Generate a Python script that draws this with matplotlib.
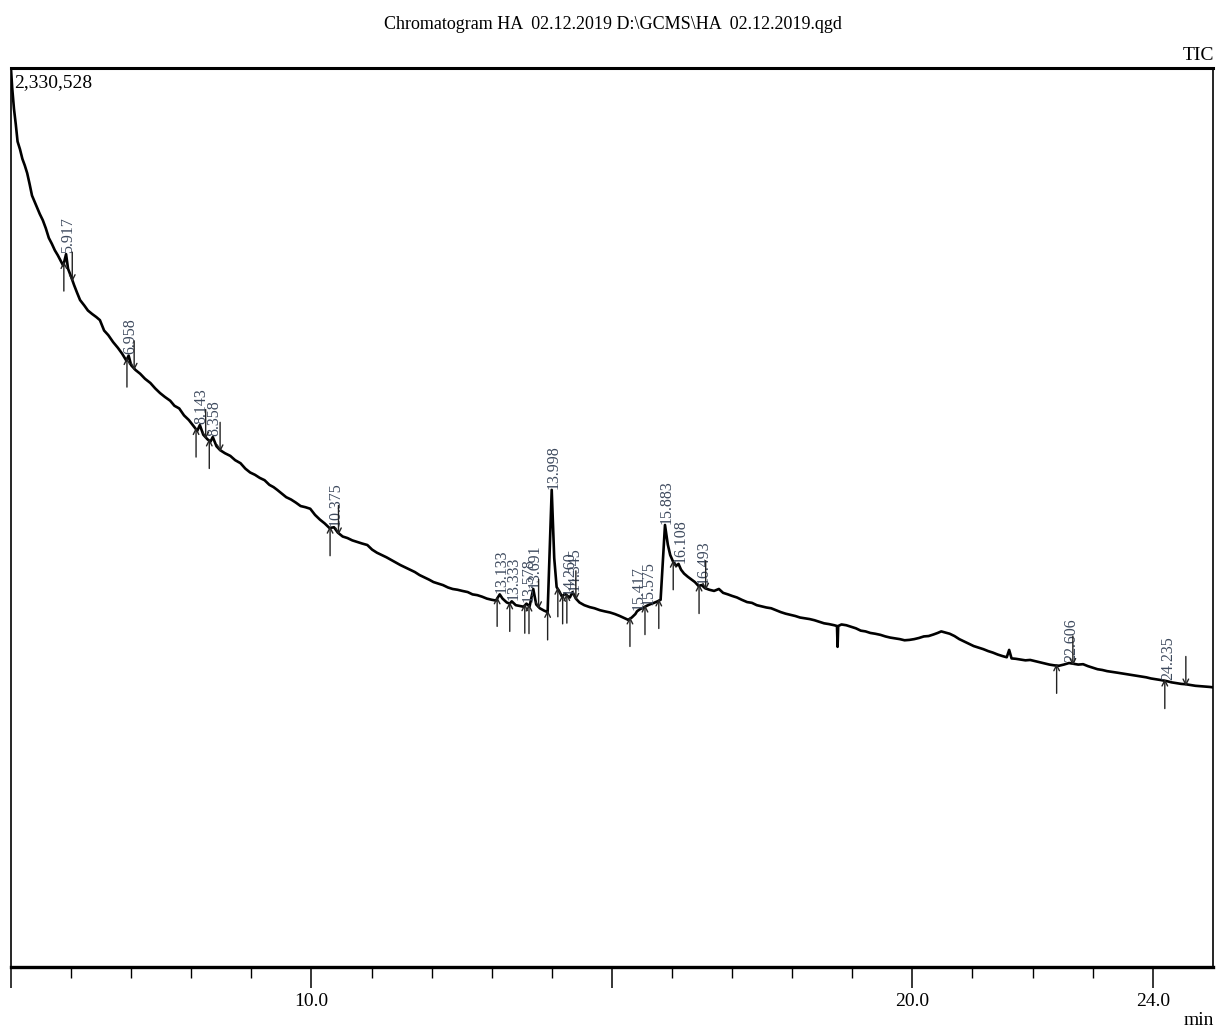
import matplotlib.pyplot as plt
import numpy as np

plt.rcParams['font.family'] = ['Liberation Serif', 'DejaVu Serif']

# retention time (min) and TIC intensity (x1000 counts)
rt = [5.00, 5.02, 5.05, 5.08, 5.11, 5.15, 5.19, 5.23, 5.27, 5.31, 5.35, 5.39, 5.43, 5.48,
      5.53, 5.58, 5.63, 5.68, 5.73, 5.78, 5.83, 5.87, 5.917, 5.95, 6.00, 6.05, 6.10, 6.15,
      6.22, 6.28, 6.35, 6.42, 6.48, 6.55, 6.62, 6.70, 6.78, 6.85, 6.92, 6.958, 7.00, 7.07,
      7.15, 7.23, 7.32, 7.40, 7.48, 7.56, 7.65, 7.72, 7.80, 7.88, 7.96, 8.04, 8.10, 8.143,
      8.20, 8.27, 8.32, 8.358, 8.42, 8.48, 8.56, 8.65, 8.73, 8.82, 8.90, 8.98, 9.06, 9.14,
      9.22, 9.30, 9.37, 9.43, 9.50, 9.58, 9.66, 9.74, 9.82, 9.90, 9.98, 10.06, 10.14, 10.22,
      10.30, 10.375, 10.44, 10.52, 10.60, 10.68, 10.76, 10.84, 10.93, 11.01, 11.09, 11.17,
      11.25, 11.33, 11.41, 11.48, 11.56, 11.64, 11.72, 11.80, 11.88, 11.96, 12.03, 12.11,
      12.19, 12.27, 12.35, 12.43, 12.51, 12.60, 12.68, 12.76, 12.84, 12.92, 13.00, 13.07,
      13.133, 13.18, 13.25, 13.30, 13.333, 13.40, 13.47, 13.53, 13.578, 13.63, 13.691, 13.74,
      13.80, 13.87, 13.93, 13.998, 14.04, 14.08, 14.12, 14.17, 14.22, 14.26, 14.30, 14.345,
      14.40, 14.46, 14.54, 14.63, 14.71, 14.80, 14.88, 14.97, 15.05, 15.13, 15.20, 15.27,
      15.33, 15.39, 15.417, 15.47, 15.53, 15.575, 15.63, 15.70, 15.76, 15.81, 15.883, 15.93,
      15.97, 16.02, 16.07, 16.108, 16.15, 16.20, 16.26, 16.32, 16.38, 16.44, 16.493, 16.55,
      16.62, 16.70, 16.78, 16.85, 16.93, 17.00, 17.08, 17.16, 17.25, 17.33, 17.41, 17.49,
      17.57, 17.65, 17.73, 17.81, 17.89, 17.97, 18.05, 18.13, 18.21, 18.29, 18.37, 18.45,
      18.53, 18.61, 18.70, 18.745, 18.755, 18.765, 18.82, 18.90, 18.98, 19.06, 19.14, 19.22,
      19.30, 19.38, 19.47, 19.55, 19.63, 19.71, 19.79, 19.87, 19.95, 20.03, 20.11, 20.19,
      20.27, 20.35, 20.42, 20.48, 20.55, 20.62, 20.70, 20.78, 20.86, 20.94, 21.02, 21.10,
      21.18, 21.26, 21.34, 21.42, 21.50, 21.57, 21.61, 21.65, 21.72, 21.80, 21.88, 21.96,
      22.04, 22.12, 22.20, 22.28, 22.36, 22.44, 22.52, 22.606, 22.68, 22.76, 22.84, 22.92,
      23.00, 23.08, 23.16, 23.24, 23.33, 23.41, 23.49, 23.57, 23.65, 23.73, 23.81, 23.89,
      23.97, 24.05, 24.13, 24.235, 24.31, 24.39, 24.47, 24.55, 24.63, 24.71, 24.79, 24.87,
      24.95, 25.00]
tic = [2330, 2280, 2225, 2185, 2140, 2120, 2095, 2078, 2058, 2030, 2000, 1985, 1970, 1952,
       1936, 1915, 1890, 1875, 1858, 1845, 1830, 1818, 1848, 1810, 1790, 1768, 1748, 1729,
       1715, 1702, 1693, 1685, 1677, 1650, 1638, 1620, 1605, 1590, 1572, 1585, 1560, 1548,
       1538, 1525, 1514, 1500, 1488, 1478, 1468, 1455, 1448, 1430, 1418, 1402, 1390, 1405,
       1380, 1368, 1362, 1374, 1350, 1340, 1332, 1325, 1314, 1306, 1292, 1282, 1276, 1268,
       1262, 1250, 1244, 1237, 1228, 1218, 1212, 1204, 1195, 1192, 1188, 1172, 1160, 1150,
       1138, 1140, 1126, 1116, 1112, 1106, 1102, 1098, 1094, 1082, 1074, 1068,
       1062, 1055, 1048, 1042, 1036, 1030, 1024, 1016, 1010, 1004, 998, 994,
       990, 984, 980, 978, 975, 972, 966, 964, 960, 955, 952, 950,
       966, 955, 945, 942, 948, 938, 936, 934, 942, 935, 980, 940,
       930, 924, 920, 1237, 1060, 985, 975, 960, 968, 962, 958, 972,
       955, 945, 938, 933, 930, 925, 922, 919, 915, 910, 905, 900,
       906, 915, 922, 928, 932, 936, 940, 944, 948, 952, 1146, 1095,
       1068, 1050, 1040, 1045, 1030, 1020, 1012, 1005, 998, 988, 990, 982,
       978, 975, 980, 970, 966, 962, 958, 952, 946, 944, 938, 935,
       932, 930, 925, 920, 916, 913, 910, 906, 904, 902, 899, 895,
       891, 889, 886, 884, 830, 884, 888, 886, 882, 878, 872, 870,
       866, 864, 861, 857, 854, 852, 850, 847, 848, 850, 853, 857,
       858, 862, 866, 870, 867, 864, 858, 850, 844, 838, 832, 828,
       824, 819, 815, 810, 806, 803, 822, 800, 799, 797, 795, 796,
       793, 790, 787, 784, 782, 781, 784, 788, 786, 784, 785, 780,
       776, 772, 770, 767, 765, 763, 761, 759, 757, 755, 753, 751,
       748, 746, 744, 741, 738, 736, 734, 733, 731, 729, 728, 727,
       726, 725]

# detected peaks
peak_rt = [5.917, 6.958, 8.143, 8.358, 10.375, 13.133, 13.333, 13.578, 13.691, 13.998,
           14.260, 14.345, 15.417, 15.575, 15.883, 16.108, 16.493, 22.606, 24.235]
peak_start = [5.88, 6.93, 8.08, 8.30, 10.31, 13.09, 13.30, 13.55, 13.62, 13.93, 14.10,
              14.18, 14.25, 15.30, 15.55, 15.78, 16.02, 16.45, 22.40, 24.20]
peak_end = [6.02, 7.05, 8.24, 8.48, 10.45, 13.78, 14.40, 16.56, 22.67, 24.55]

y_max = 2330.528

fig = plt.figure(figsize=(12.18, 10.34), dpi=100)
ax = fig.add_axes([0.009, 0.0648, 0.9868, 0.8694])

ax.plot(rt, tic, color='black', lw=1.9)

# peak labels (rotated, sitting on the apex)
for p in peak_rt:
    y = np.interp(p, rt, tic)
    ax.text(p + 0.03, y + 3, '%.3f' % p, rotation=90, ha='center', va='bottom',
            fontsize=11.5, color='#3e4a5e')

# peak start / end arrows
alen = 72
for s in peak_start:
    y = np.interp(s, rt, tic)
    ax.annotate('', xy=(s, y + 5), xytext=(s, y - alen),
                arrowprops=dict(arrowstyle='->', lw=1.0, color='#222222',
                                shrinkA=0, shrinkB=0, mutation_scale=10))
for e in peak_end:
    y = np.interp(e, rt, tic)
    ax.annotate('', xy=(e, y - 5), xytext=(e, y + alen),
                arrowprops=dict(arrowstyle='->', lw=1.0, color='#222222',
                                shrinkA=0, shrinkB=0, mutation_scale=10))

ax.set_xlim(5.0, 25.0)
ax.set_ylim(0, y_max)
ax.set_yticks([])
ax.set_xticks([5, 10, 15, 20, 24])
ax.set_xticklabels(['', '10.0', '', '20.0', '24.0'], fontsize=14)
ax.set_xticks(np.arange(6, 25, 1), minor=True)
ax.tick_params(axis='x', which='major', direction='out', length=15, width=1.1, pad=4)
ax.tick_params(axis='x', which='minor', direction='out', length=8, width=1.0)

for side in ['left', 'right']:
    ax.spines[side].set_linewidth(1.2)
ax.spines['top'].set_linewidth(2.2)
ax.spines['bottom'].set_linewidth(2.4)

ax.text(0.003, 0.993, '2,330,528', transform=ax.transAxes, ha='left', va='top', fontsize=14)
fig.text(0.503, 0.976, 'Chromatogram HA  02.12.2019 D:\\GCMS\\HA  02.12.2019.qgd',
         ha='center', va='center', fontsize=13)
fig.text(0.997, 0.946, 'TIC', ha='right', va='center', fontsize=14)
fig.text(0.997, 0.005, 'min', ha='right', va='bottom', fontsize=14)

fig.savefig('out.png', dpi=100)
